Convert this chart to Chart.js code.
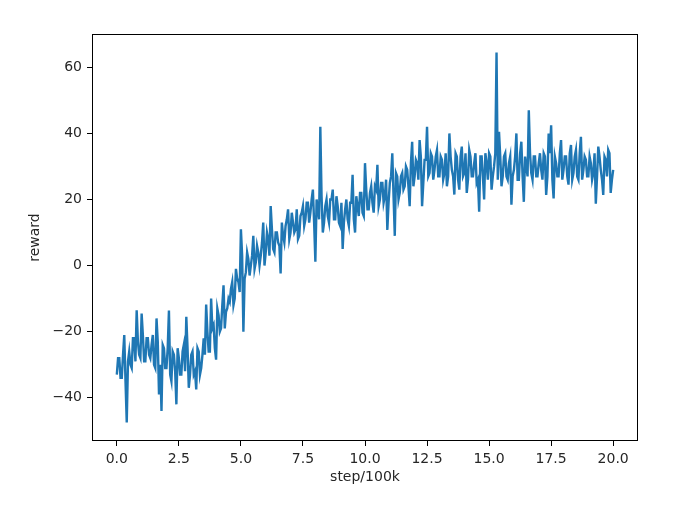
<!DOCTYPE html>
<html>
<head>
<meta charset="utf-8">
<script src="https://cdn.jsdelivr.net/npm/chart.js@4"></script>
<style>
  html, body { margin: 0; padding: 0; background: #fff; }
  #wrap { width: 673px; height: 514px; }
</style>
</head>
<body>
<div id="wrap"><canvas id="chart" width="673" height="514"></canvas></div>
<script>
// reward, one value every 0.05 (x 100k steps)
const STEP_SPACING = 0.05;
const rewards = [
  -33, -28, -28, -34, -34, -27, -21, -35, -47.5, -29,
  -26, -30, -31, -22, -22, -29, -13.5, -23, -27, -28,
  -14.5, -21, -29, -29, -22, -22, -27, -28, -24, -21,
  -30, -31, -16, -23, -39, -30, -44, -24, -25, -31,
  -31, -25, -13.6, -33, -35, -26, -27, -32, -42, -25,
  -28, -33, -33, -26, -24, -32, -15.5, -25, -37, -33,
  -27, -26, -33, -32, -37.5, -25, -26, -33, -31, -27,
  -22, -27, -11.8, -20, -26, -26, -10, -19, -18, -25,
  -28.5, -13, -15, -20, -19, -12, -6, -19, -14, -13,
  -10, -11, -7, -5, -12, -10, -1, -4, -5, -8,
  11, 3, -20, -4, -2, 4, 2, -3, 0, 3,
  9, -1, 1, 6, 4, 0, 3, 7, 13, 0,
  4, 10, 8, 3, 18, 11, 5, 4, 10, 10,
  7, 6, -2.4, 13, 9, 7, 12, 14, 17, 8,
  10, 16, 13, 10, 11, 17, 8, 9, 15, 16,
  18, 12, 14, 19, 19, 13, 16, 20, 23, 13,
  1.2, 20, 17, 14, 42, 21, 10, 13, 18, 20,
  15, 13, 20, 20, 23, 14, 14, 21, 18, 13,
  12, 19, 5, 13, 17, 20, 14, 12, 19, 19,
  27.5, 14, 10, 21, 18, 15, 22, 22, 16, 15,
  31, 23, 17, 17, 22, 24, 19, 16, 24, 23,
  30.5, 18, 20, 25, 25, 19, 21, 26, 10.8, 19,
  25, 27, 34, 21, 9, 28, 27, 20, 22, 27,
  28, 23, 24, 30, 29, 24, 18, 31, 37.5, 24,
  27, 32, 31, 26, 38, 33, 18, 25, 32, 32,
  42, 27, 28, 34, 33, 26, 29, 33, 35, 27,
  27, 33, 32, 26, 28, 34, 24, 27, 40, 33,
  29, 27, 21.5, 34, 33, 26, 23, 33, 36, 27,
  28, 34, 22, 26, 35, 33, 27, 27, 31, 34,
  25, 26, 16.3, 33, 33, 27, 20, 34, 31, 26,
  34, 33, 23, 27, 30, 34, 64.5, 26, 40.5, 33,
  24, 27, 33, 34, 27, 26, 31, 33, 18.4, 27,
  29, 33, 40, 26, 26, 34, 37.5, 27, 19.3, 33,
  30, 27, 47, 34, 28, 26, 33, 33, 27, 27,
  31, 34, 29, 26, 34, 33, 21.4, 27, 40, 34,
  42.5, 26, 20.3, 33, 31, 27, 27, 34, 38, 26,
  29, 33, 33, 27, 24.5, 34, 36.5, 26, 28, 33,
  35, 27, 26, 34, 39, 26, 29, 33, 32, 27,
  27, 33, 31, 26, 28, 34, 18.7, 27, 36, 33,
  29, 26, 21.4, 33, 32, 27, 35, 34, 22, 26,
  29
];
const xTicks = [0, 2.5, 5, 7.5, 10, 12.5, 15, 17.5, 20];
const yTicks = [-40, -20, 0, 20, 40, 60];

const points = rewards.map((r, i) => ({ x: i * STEP_SPACING, y: r }));

const TEXT = '#262626';
const FONT = { family: 'DejaVu Sans', size: 14 };

// matplotlib uses a real minus sign
const fmt = (v) => (v < 0 ? '\u2212' + Math.abs(v) : String(v));

// all four spines
const frame = {
  id: 'frame',
  afterDraw(chart) {
    const { ctx, chartArea: a } = chart;
    ctx.save();
    ctx.strokeStyle = '#000';
    ctx.lineWidth = 1;
    ctx.strokeRect(a.left + 0.5, a.top + 0.5, a.right - a.left - 1, a.bottom - a.top - 1);
    ctx.restore();
  },
};

new Chart(document.getElementById('chart'), {
  type: 'line',
  data: {
    datasets: [{
      data: points,
      borderColor: '#1f77b4',
      borderWidth: 2.4,
      pointRadius: 0,
      tension: 0,
    }],
  },
  options: {
    responsive: false,
    animation: false,
    layout: { padding: { left: 0, right: 35, top: 34, bottom: 0 } },
    plugins: { legend: { display: false }, tooltip: { enabled: false } },
    scales: {
      x: {
        type: 'linear',
        min: -1,
        max: 21,
        afterBuildTicks: (s) => { s.ticks = xTicks.map((v) => ({ value: v })); },
        afterFit: (s) => { s.height = 73; },
        grid: { drawOnChartArea: false, drawTicks: true, tickLength: 5, color: '#000' },
        border: { display: false },
        ticks: { color: TEXT, font: FONT, padding: 5, maxRotation: 0, callback: (v) => v.toFixed(1) },
        title: { display: true, text: 'step/100k', color: TEXT, font: FONT, padding: { top: 0, bottom: 28 } },
      },
      y: {
        min: -53.1,
        max: 70.1,
        afterBuildTicks: (s) => { s.ticks = yTicks.map((v) => ({ value: v })); },
        afterFit: (s) => { s.width = 92; },
        grid: { drawOnChartArea: false, drawTicks: true, tickLength: 5, color: '#000' },
        border: { display: false },
        ticks: { color: TEXT, font: FONT, padding: 5, callback: (v) => fmt(v) },
        title: { display: true, text: 'reward', color: TEXT, font: FONT, padding: { top: 27, bottom: 0 } },
      },
    },
  },
  plugins: [frame],
});
</script>
</body>
</html>
